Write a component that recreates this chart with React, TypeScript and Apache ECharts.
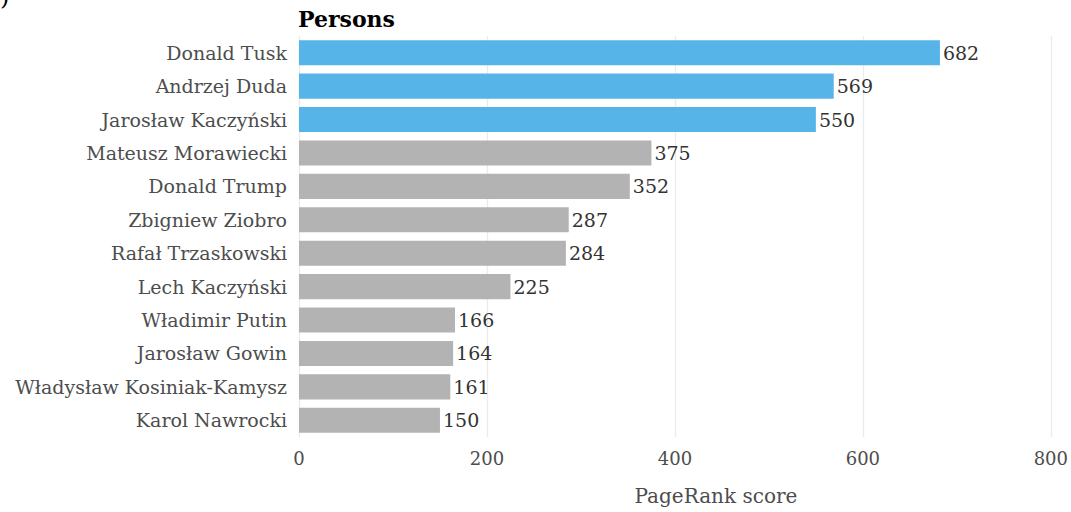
import React, { useEffect, useRef } from "react";
import * as echarts from "echarts";

const categories = [
  "Donald Tusk",
  "Andrzej Duda",
  "Jarosław Kaczyński",
  "Mateusz Morawiecki",
  "Donald Trump",
  "Zbigniew Ziobro",
  "Rafał Trzaskowski",
  "Lech Kaczyński",
  "Władimir Putin",
  "Jarosław Gowin",
  "Władysław Kosiniak-Kamysz",
  "Karol Nawrocki",
];
const values = [682, 569, 550, 375, 352, 287, 284, 225, 166, 164, 161, 150];
const highlighted = [true, true, true, false, false, false, false, false, false, false, false, false];
const xTicks = [0, 200, 400, 600, 800];

const FONT = "DejaVu Serif";

export default function App() {
  const ref = useRef<HTMLDivElement>(null);
  useEffect(() => {
    document.body.style.margin = "0";
    const chart = echarts.init(ref.current!, null, { renderer: "svg" });
    chart.setOption({
      animation: false,
      grid: { left: 299, right: 20, top: 36, bottom: 75 },
      title: {
        text: "Persons",
        left: 293,
        top: 3,
        textStyle: { fontFamily: FONT, fontWeight: "bold", fontSize: 22, color: "#000" },
      },
      graphic: [
        {
          type: "text",
          left: 0,
          top: -15,
          style: { text: ")", font: `24px '${FONT}'`, fill: "#000" },
        },
      ],
      xAxis: {
        type: "value",
        min: xTicks[0],
        max: xTicks[xTicks.length - 1],
        interval: 200,
        name: "PageRank score",
        nameLocation: "middle",
        nameGap: 49,
        nameTextStyle: { fontFamily: FONT, fontSize: 20, color: "#4d4d4d", padding: [0, 0, 0, 82] },
        axisLine: { show: false },
        axisTick: { show: false },
        axisLabel: { fontFamily: FONT, fontSize: 18, color: "#4d4d4d", margin: 12 },
        splitLine: { show: true, lineStyle: { color: "#ebebeb", width: 1.3 } },
      },
      yAxis: {
        type: "category",
        data: categories,
        inverse: true,
        axisLine: { show: false },
        axisTick: { show: false },
        axisLabel: { fontFamily: FONT, fontSize: 19, color: "#4d4d4d", margin: 12 },
        splitLine: { show: false },
      },
      series: [
        {
          type: "bar",
          barCategoryGap: "25%",
          data: values.map((v, i) => ({
            value: v,
            itemStyle: { color: highlighted[i] ? "#56B4E9" : "#B3B3B3" },
          })),
          label: {
            show: true,
            position: "right",
            distance: 3,
            fontFamily: FONT,
            fontSize: 19,
            color: "#333333",
          },
        },
      ],
    });
    return () => chart.dispose();
  }, []);
  return <div ref={ref} style={{ width: 1071, height: 512 }} />;
}
